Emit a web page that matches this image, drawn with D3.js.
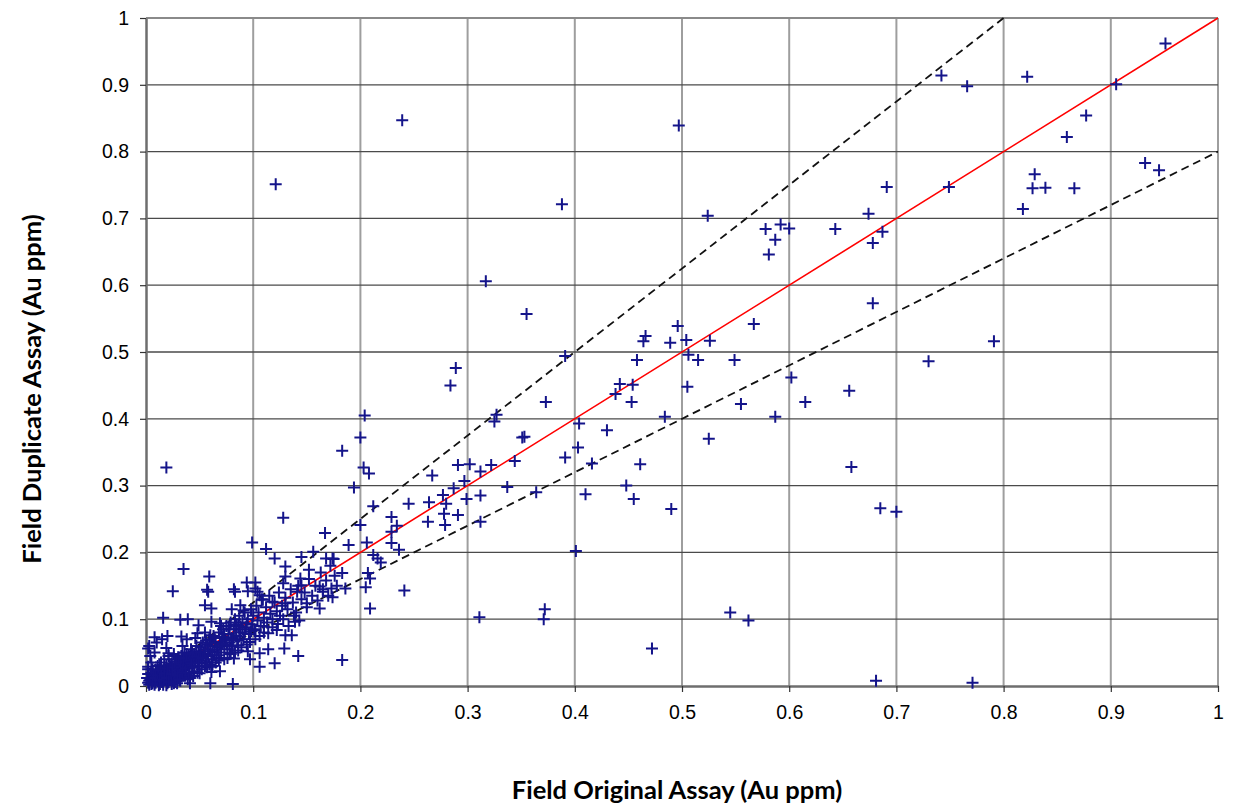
<!DOCTYPE html>
<html>
<head>
<meta charset="utf-8">
<script src="https://cdn.jsdelivr.net/npm/d3@7/dist/d3.min.js"></script>
<style>
  html, body { margin: 0; padding: 0; background: #ffffff; }
  svg { display: block; }
</style>
</head>
<body>
<svg id="chart" width="1233" height="806"></svg>
<script>
// ---- Data (Au ppm): [original, duplicate] ----
const clusterPoints = [
  [0.002,0.005],[0.004,0.010],[0.005,0.003],[0.006,0.012],[0.007,0.008],[0.008,0.015],[0.009,0.005],[0.010,0.011],
  [0.010,0.020],[0.011,0.007],[0.012,0.014],[0.013,0.003],[0.013,0.018],[0.014,0.010],[0.015,0.022],[0.015,0.006],
  [0.016,0.013],[0.017,0.025],[0.018,0.009],[0.018,0.017],[0.019,0.030],[0.020,0.004],[0.020,0.014],[0.021,0.021],
  [0.022,0.010],[0.023,0.027],[0.023,0.017],[0.024,0.034],[0.025,0.008],[0.025,0.022],[0.026,0.014],[0.027,0.030],
  [0.028,0.019],[0.028,0.040],[0.029,0.025],[0.030,0.012],[0.030,0.033],[0.031,0.021],[0.032,0.028],[0.033,0.045],
  [0.033,0.015],[0.034,0.036],[0.035,0.024],[0.036,0.030],[0.036,0.050],[0.037,0.040],[0.038,0.018],[0.039,0.033],
  [0.040,0.027],[0.040,0.045],[0.041,0.038],[0.042,0.055],[0.043,0.030],[0.044,0.042],[0.045,0.022],[0.045,0.048],
  [0.046,0.035],[0.047,0.060],[0.048,0.040],[0.049,0.052],[0.050,0.030],[0.050,0.045],[0.051,0.058],[0.052,0.038],
  [0.053,0.065],[0.054,0.048],[0.055,0.055],[0.056,0.035],[0.057,0.062],[0.058,0.045],[0.059,0.070],[0.060,0.052],
  [0.061,0.040],[0.062,0.060],[0.063,0.075],[0.064,0.050],[0.065,0.066],[0.066,0.042],[0.067,0.058],[0.068,0.080],
  [0.069,0.062],[0.070,0.050],[0.071,0.072],[0.072,0.085],[0.073,0.060],[0.074,0.068],[0.075,0.090],[0.076,0.055],
  [0.077,0.078],[0.078,0.065],[0.079,0.095],[0.080,0.072],[0.081,0.060],[0.082,0.085],[0.083,0.100],[0.084,0.075],
  [0.085,0.068],[0.086,0.090],[0.087,0.105],[0.088,0.080],[0.090,0.095],[0.091,0.070],[0.092,0.110],[0.093,0.088],
  [0.095,0.100],[0.096,0.078],[0.098,0.115],[0.099,0.092],[0.100,0.105],[0.101,0.085],[0.103,0.120],[0.104,0.098],
  [0.105,0.110],[0.107,0.090],[0.108,0.130],[0.110,0.102],[0.112,0.118],[0.113,0.095],[0.115,0.135],[0.116,0.108],
  [0.118,0.100],[0.120,0.125],[0.122,0.112],[0.124,0.140],[0.125,0.105],[0.127,0.120],[0.130,0.132],[0.132,0.115],
  [0.135,0.145],[0.137,0.125],[0.140,0.110],[0.142,0.150],[0.145,0.130],[0.148,0.140],[0.150,0.118],[0.152,0.160],
  [0.155,0.135],[0.158,0.150],[0.160,0.128],[0.163,0.170],[0.165,0.145],[0.168,0.158],[0.170,0.135],[0.172,0.180],
  [0.176,0.165],[0.178,0.150],
  [0.003,0.002],[0.004,0.018],[0.006,0.025],[0.008,0.002],[0.011,0.030],[0.012,0.001],[0.014,0.035],[0.016,0.002],
  [0.017,0.040],[0.019,0.001],[0.021,0.045],[0.024,0.003],[0.026,0.048],[0.027,0.006],[0.029,0.004],[0.032,0.008],
  [0.034,0.060],[0.038,0.070],[0.039,0.010],[0.041,0.012],[0.044,0.015],[0.046,0.072],[0.048,0.020],[0.052,0.025],
  [0.055,0.080],[0.057,0.028],[0.059,0.032],[0.062,0.030],[0.065,0.035],[0.068,0.038],[0.070,0.090],[0.073,0.040],
  [0.076,0.042],[0.079,0.048],[0.083,0.050],[0.086,0.053],[0.089,0.058],[0.094,0.062],[0.097,0.066],[0.102,0.070],
  [0.106,0.075],[0.110,0.080],[0.118,0.088],[0.123,0.093],[0.128,0.100],[0.133,0.090],[0.138,0.105],[0.143,0.098],
  [0.003,0.060],[0.004,0.045],[0.005,0.035],[0.002,0.025],[0.008,0.050],[0.010,0.065],[0.015,0.070],[0.020,0.075],
  [0.008,0.073],[0.002,0.056],[0.019,0.057],[0.021,0.049],[0.002,0.029],[0.013,0.031],[0.035,0.016],
  [0.041,0.004],[0.060,0.004],[0.081,0.003],[0.050,0.019],[0.061,0.029],[0.061,0.021],[0.069,0.022],
  [0.001,0.012],[0.002,0.018],[0.003,0.008],[0.005,0.020],[0.006,0.004],[0.007,0.016],[0.009,0.024],[0.009,0.012],
  [0.011,0.016],[0.012,0.024],[0.013,0.009],[0.014,0.027],[0.016,0.008],[0.017,0.019],[0.019,0.012],[0.020,0.026],
  [0.021,0.006],[0.022,0.032],[0.024,0.018],[0.025,0.028],[0.026,0.004],[0.027,0.037],[0.029,0.016],[0.030,0.043],
  [0.031,0.009],[0.032,0.035],[0.034,0.020],[0.035,0.042],[0.037,0.026],[0.038,0.048],[0.040,0.020],[0.042,0.034],
  [0.043,0.050],[0.045,0.028],[0.047,0.044],[0.049,0.034],[0.051,0.050],[0.053,0.042],[0.055,0.030],[0.056,0.068],
  [0.058,0.052],[0.060,0.064],[0.062,0.046],[0.064,0.072],[0.066,0.055],[0.068,0.046],[0.071,0.064],[0.073,0.078],
  [0.075,0.062],[0.078,0.085],[0.080,0.060],[0.084,0.092],[0.087,0.074],[0.090,0.085],[0.094,0.094],[0.098,0.082]
];

const lowPoints = [
  [0.167,0.229],[0.099,0.215],[0.112,0.205],[0.120,0.191],[0.156,0.201],[0.145,0.193],[0.168,0.191],[0.174,0.191],
  [0.035,0.175],[0.130,0.179],[0.152,0.174],[0.059,0.164],[0.094,0.155],[0.102,0.155],[0.102,0.146],[0.128,0.154],
  [0.130,0.164],[0.144,0.161],[0.145,0.151],[0.141,0.141],[0.162,0.149],[0.165,0.141],[0.173,0.146],[0.025,0.142],
  [0.057,0.144],[0.082,0.145],[0.095,0.142],[0.104,0.141],[0.109,0.129],[0.118,0.126],[0.130,0.124],[0.150,0.124],
  [0.162,0.116],[0.055,0.121],[0.061,0.116],[0.080,0.115],[0.088,0.121],[0.091,0.113],[0.016,0.102],[0.032,0.099],
  [0.039,0.100],[0.049,0.091],[0.061,0.096],[0.069,0.094],[0.077,0.089],[0.088,0.089],[0.092,0.079],[0.102,0.084],
  [0.110,0.089],[0.114,0.079],[0.122,0.084],[0.130,0.076],[0.139,0.096],[0.136,0.076],[0.033,0.074],[0.048,0.079],
  [0.060,0.076],[0.072,0.074],[0.081,0.069],[0.086,0.061],[0.114,0.055],[0.095,0.052],[0.078,0.049],[0.106,0.049],
  [0.082,0.041],[0.097,0.040],[0.142,0.045],[0.129,0.056],[0.120,0.034],[0.106,0.029],[0.058,0.141],[0.083,0.141],
  [0.106,0.136],[0.128,0.252],
  [0.189,0.211],[0.206,0.215],[0.229,0.231],[0.229,0.214],[0.236,0.204],[0.212,0.196],[0.216,0.191],[0.219,0.185],
  [0.175,0.190],[0.183,0.169],[0.207,0.169],[0.209,0.161],[0.186,0.146],[0.205,0.148],[0.174,0.133],[0.241,0.143],
  [0.209,0.116],[0.311,0.103],[0.183,0.039]
];

const midPoints = [
  [0.019,0.327],[0.289,0.476],[0.284,0.450],[0.183,0.352],[0.204,0.405],[0.200,0.372],[0.203,0.327],[0.208,0.318],
  [0.194,0.297],[0.212,0.269],[0.245,0.273],[0.264,0.275],[0.267,0.315],[0.229,0.253],[0.200,0.241],[0.234,0.240],
  [0.263,0.246],[0.279,0.241],[0.277,0.286],[0.278,0.258],[0.291,0.256],[0.280,0.273],[0.287,0.296],[0.297,0.307],
  [0.299,0.280],[0.312,0.285],[0.291,0.331],[0.302,0.332],[0.312,0.321],[0.322,0.331],[0.344,0.337],[0.337,0.298],
  [0.312,0.246],[0.325,0.396],[0.327,0.406],[0.351,0.372],[0.353,0.373],
  [0.391,0.494],[0.458,0.488],[0.506,0.496],[0.515,0.488],[0.549,0.488],[0.442,0.452],[0.454,0.451],[0.438,0.437],
  [0.373,0.425],[0.453,0.425],[0.505,0.448],[0.555,0.422],[0.602,0.462],[0.615,0.425],[0.656,0.442],[0.587,0.403],
  [0.484,0.403],[0.404,0.393],[0.430,0.383],[0.525,0.370],[0.403,0.357],[0.391,0.342],[0.416,0.333],[0.461,0.332],
  [0.658,0.328],[0.364,0.290],[0.410,0.287],[0.448,0.300],[0.455,0.280],[0.490,0.265],[0.401,0.202],[0.372,0.115],
  [0.371,0.100],[0.545,0.110],[0.562,0.098],[0.472,0.056],[0.730,0.486],[0.685,0.266],[0.700,0.261],[0.681,0.008],
  [0.771,0.005],[0.791,0.516],[0.678,0.573]
];

const highPoints = [
  [0.742,0.914],[0.766,0.898],[0.822,0.912],[0.951,0.962],[0.905,0.901],[0.877,0.854],[0.859,0.822],[0.691,0.747],
  [0.749,0.747],[0.829,0.766],[0.827,0.745],[0.839,0.746],[0.866,0.745],[0.818,0.714],[0.932,0.783],[0.945,0.772],
  [0.674,0.707],[0.687,0.680],[0.678,0.663],[0.497,0.839],[0.388,0.721],[0.524,0.704],[0.578,0.684],[0.592,0.691],
  [0.600,0.685],[0.587,0.668],[0.581,0.646],[0.643,0.684],[0.355,0.557],[0.567,0.542],[0.496,0.539],[0.466,0.524],
  [0.464,0.516],[0.489,0.514],[0.504,0.518],[0.526,0.517],[0.239,0.847],[0.121,0.751],[0.317,0.606]
];

const ticks = [0, 0.1, 0.2, 0.3, 0.4, 0.5, 0.6, 0.7, 0.8, 0.9, 1];
const tickLabels = ["0", "0.1", "0.2", "0.3", "0.4", "0.5", "0.6", "0.7", "0.8", "0.9", "1"];
const refLines = [
  { name: "1:1", slope: 1.0 },
  { name: "+25%", slope: 1.25 },
  { name: "-20%", slope: 0.8 }
];
const xTitle = "Field Original Assay (Au ppm)";
const yTitle = "Field Duplicate Assay (Au ppm)";

// ---- Layout ----
const svg = d3.select("#chart");
const pL = 146, pR = 1218, pT = 18, pB = 686;
const x = d3.scaleLinear().domain([0, 1]).range([pL, pR]);
const y = d3.scaleLinear().domain([0, 1]).range([pB, pT]);

svg.append("rect").attr("width", 1233).attr("height", 806).attr("fill", "#ffffff");

// gridlines
const grid = svg.append("g");
grid.selectAll("line.v").data(ticks.slice(1)).join("line")
  .attr("class", "v")
  .attr("x1", d => x(d)).attr("x2", d => x(d))
  .attr("y1", y(0)).attr("y2", y(1))
  .attr("stroke", "#9e9e9e").attr("stroke-width", 2);
grid.selectAll("line.h").data(ticks.slice(1)).join("line")
  .attr("class", "h")
  .attr("x1", x(0)).attr("x2", x(1))
  .attr("y1", d => y(d)).attr("y2", d => y(d))
  .attr("stroke", d => d === 1 ? "#8a8a8a" : "#4a4a4a").attr("stroke-width", d => d === 1 ? 2 : 1.3);

// reference lines
svg.append("clipPath").attr("id", "plotclip").append("rect")
  .attr("x", pL).attr("y", pT - 1).attr("width", pR - pL).attr("height", pB - pT + 1);
const lineG = svg.append("g").attr("clip-path", "url(#plotclip)");
refLines.forEach(l => {
  const xEnd = Math.min(1, 1 / l.slope);
  lineG.append("line")
    .attr("x1", x(0)).attr("y1", y(0))
    .attr("x2", x(xEnd)).attr("y2", y(xEnd * l.slope))
    .attr("stroke", l.slope === 1 ? "#ff0000" : "#111111")
    .attr("stroke-width", l.slope === 1 ? 1.6 : 1.8)
    .attr("stroke-dasharray", l.slope === 1 ? null : "8,5");
});

// axes
const xAxis = d3.axisBottom(x).tickValues(ticks).tickFormat((d, i) => tickLabels[i]).tickSize(6).tickSizeOuter(0);
const yAxis = d3.axisLeft(y).tickValues(ticks).tickFormat((d, i) => tickLabels[i]).tickSize(6).tickSizeOuter(0);

const gx = svg.append("g").attr("transform", `translate(0,${pB})`).call(xAxis);
const gy = svg.append("g").attr("transform", `translate(${pL},0)`).call(yAxis);
[gx, gy].forEach(g => {
  g.select(".domain").attr("stroke", "#6e6e6e").attr("stroke-width", 2.5);
  g.selectAll(".tick line").attr("stroke", "#333").attr("stroke-width", 1.2);
  g.selectAll(".tick text").attr("fill", "#000").style("font-family", "'Liberation Sans', Arial, sans-serif").style("font-size", "19.5px");
});
gx.selectAll(".tick text").attr("y", 19).attr("dy", "0.71em");
gy.selectAll(".tick text").attr("x", -17);

// points
const allPoints = clusterPoints.concat(lowPoints, midPoints, highPoints);
const s = 6;
svg.append("g").selectAll("path").data(allPoints).join("path")
  .attr("d", d => `M${x(d[0]) - s},${y(d[1])}H${x(d[0]) + s}M${x(d[0])},${y(d[1]) - s}V${y(d[1]) + s}`)
  .attr("stroke", "#14148a").attr("stroke-width", 2).attr("fill", "none");

// titles
svg.append("text").attr("x", 677).attr("y", 799).attr("text-anchor", "middle")
  .style("font-family", "Lato, 'Open Sans', sans-serif").style("font-weight", "bold").style("font-size", "25.5px")
  .text(xTitle);
svg.append("text").attr("transform", "translate(41,389) rotate(-90)").attr("text-anchor", "middle")
  .style("font-family", "Lato, 'Open Sans', sans-serif").style("font-weight", "bold").style("font-size", "25.5px")
  .text(yTitle);
</script>
</body>
</html>
